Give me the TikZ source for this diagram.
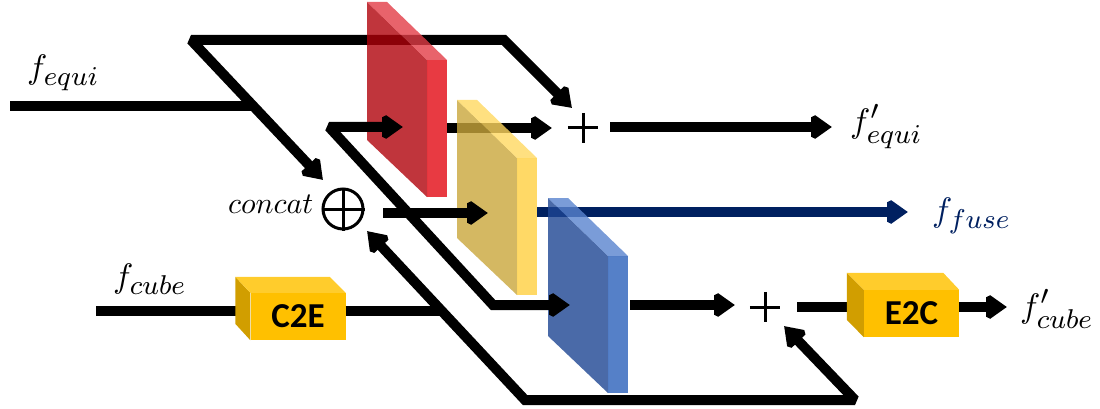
\documentclass[tikz,border=0pt]{standalone}
\usepackage{fontspec}
\newfontfamily\boxfont{Carlito}
\usetikzlibrary{arrows.meta}
\DeclareMathSizes{10}{10}{7.6}{5}

% slab colours
\definecolor{redbig}{RGB}{176,2,11}
\definecolor{redtop}{RGB}{226,60,70}
\definecolor{redside}{RGB}{226,9,19}
\definecolor{yelbig}{RGB}{201,166,59}
\definecolor{yeltop}{RGB}{255,216,96}
\definecolor{yelside}{RGB}{255,207,64}
\definecolor{blubig}{RGB}{29,69,146}
\definecolor{blutop}{RGB}{89,131,206}
\definecolor{bluside}{RGB}{43,96,186}
% converter blocks
\definecolor{boxfront}{RGB}{255,192,0}
\definecolor{boxside}{RGB}{209,158,0}
\definecolor{boxtop}{RGB}{255,204,44}
\definecolor{fusecol}{RGB}{0,32,96}

\pgfdeclarelayer{back}
\pgfsetlayers{back,main}

% math label enlarged from its 10pt setting
\newcommand\biglabel[2]{\scalebox{#1}{$#2$}}

% a thin slab seen from the front-left: front face, top face, right side
\newcommand\slab[5]{%
  \begin{scope}[shift={(#1,#2)}, fill opacity=0.8]
    \fill[#3] (0,0) -- (60,58) -- (60,195) -- (0,138) -- cycle;
    \fill[#4] (0,0) -- (20,0) -- (80,58) -- (60,58) -- cycle;
    \fill[#5] (60,58) -- (80,58) -- (80,195) -- (60,195) -- cycle;
  \end{scope}}

\begin{document}
\begin{tikzpicture}[x=1pt, y=-1pt,
  wire/.style={line width=10pt, line join=miter, miter limit=2},
  arr/.style={wire, -{Triangle[length=21pt,width=28pt]}},
  arrboth/.style={wire, {Triangle[length=21pt,width=28pt]}-{Triangle[length=21pt,width=28pt]}},
  lab/.style={inner sep=0pt},
  opnode/.style={inner sep=0pt, minimum size=30pt},
  cross/.style={line width=3pt},
  block/.style={inner sep=0pt, minimum width=95pt, minimum height=47pt, fill=boxfront,
    font=\boxfont\bfseries\fontsize{35}{40}\selectfont},
]
\useasboundingbox (0,0) rectangle (1100,409);

% ---------- labels ----------
\node[lab, anchor=base west] (fequi) at (27,79) {\biglabel{3.4}{f_{equi}}};
\node[lab, anchor=base west] (fequiout) at (850,132) {\biglabel{3.4}{f'_{equi}}};
\node[lab, anchor=base west, text=fusecol] (ffuse) at (932,221) {\biglabel{3.4}{f_{fuse}}};
\node[lab, anchor=base west] (fcube) at (113,287) {\biglabel{3.4}{f_{cube}}};
\node[lab, anchor=base west] (fcubeout) at (1020,317) {\biglabel{3.4}{f'_{cube}}};
\node[lab, anchor=base west] (catlab) at (228,213) {\biglabel{3}{concat}};

% ---------- concatenation and additions ----------
\node[circle, draw, line width=3pt, minimum size=40pt, inner sep=0pt] (cat) at (343,209) {};
\draw[cross] (cat.north) -- (cat.south) (cat.west) -- (cat.east);
\node[opnode] (add1) at (583,128) {};
\draw[cross] (add1.north) -- (add1.south) (add1.west) -- (add1.east);
\node[opnode] (add2) at (765,307) {};
\draw[cross] (add2.north) -- (add2.south) (add2.west) -- (add2.east);

% ---------- projection blocks ----------
\node[block] (c2e) at (298,316.5) {C2E};
\fill[boxside] (c2e.north west) -- ++(-15,-16) -- ++(0,47) -- (c2e.south west) -- cycle;
\fill[boxtop] (c2e.north west) -- ++(-15,-16) -- ([shift={(-16,-16)}]c2e.north east) -- (c2e.north east) -- cycle;
\node[block] (e2c) at (911.5,313.5) {E2C};
\fill[boxside] (e2c.north west) -- ++(-17,-17) -- ++(0,47) -- (e2c.south west) -- cycle;
\fill[boxtop] (e2c.north west) -- ++(-17,-17) -- ([shift={(-16,-17)}]e2c.north east) -- (e2c.north east) -- cycle;

% ---------- routing points ----------
\coordinate (catA) at (323,180);
\coordinate (tl) at (191,40);
\coordinate (tr) at (504,40);
\coordinate (add1A) at (572,108);
\coordinate (ein) at (10,106);
\coordinate (ejoin) at (253,106);
\coordinate (redA) at (403,127);
\coordinate (sc) at (329,127);
\coordinate (sd) at (493,305);
\coordinate (blueA) at (570,305);
\coordinate (redout) at (447,128);
\coordinate (add1B) at (552,128);
\coordinate (add1out) at (610,127);
\coordinate (outE) at (832,127);
\coordinate (catout) at (383,213);
\coordinate (yelA) at (488,213);
\coordinate (fuseS) at (537,212);
\coordinate (fuseE) at (908,212);
\coordinate (cubeIn) at (96,311);
\coordinate (c2eIn) at (242,311);
\coordinate (cjoin) at (442,311);
\coordinate (catB) at (367,231);
\coordinate (bl) at (525,400);
\coordinate (br) at (855,400);
\coordinate (add2A) at (784,326);
\coordinate (blueout) at (630,305);
\coordinate (add2B) at (735,305);
\coordinate (add2out) at (797,307);
\coordinate (e2cIn) at (858,307);
\coordinate (cubeE) at (1007,307);

% ---------- wires running behind the slabs and blocks ----------
\begin{pgfonlayer}{back}
  \draw[arrboth] (catA) -- (tl) -- (tr) -- (add1A);
  \draw[wire] (ein) -- (ejoin);
  \draw[arr] (redout) -- (add1B);
  \draw[arr, draw=fusecol, fill=fusecol] (fuseS) -- (fuseE);
  \draw[wire] (cubeIn) -- (c2eIn);
  \draw[wire] (add2out) -- (e2cIn);
\end{pgfonlayer}

% ---------- slabs ----------
\slab{367}{2}{redbig}{redtop}{redside}
\slab{457}{100}{yelbig}{yeltop}{yelside}
\slab{548}{198}{blubig}{blutop}{bluside}

% ---------- wires in front ----------
\draw[arrboth] (redA) -- (sc) -- (sd) -- (blueA);
\draw[arr] (add1out) -- (outE);
\draw[arr] (catout) -- (yelA);
\draw[wire] (c2e.east |- cjoin) -- (cjoin);
\draw[arrboth] (catB) -- (bl) -- (br) -- (add2A);
\draw[arr] (blueout) -- (add2B);
\draw[arr] (e2c.east |- cubeE) -- (cubeE);
\end{tikzpicture}
\end{document}
